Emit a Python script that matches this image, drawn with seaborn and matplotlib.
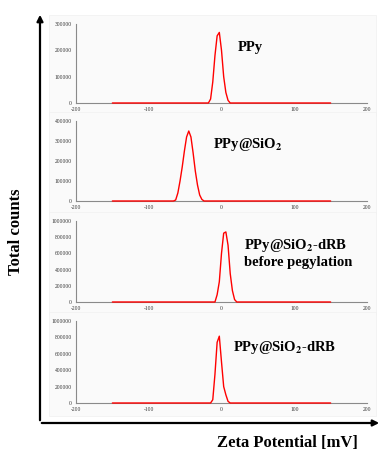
import matplotlib
matplotlib.use('Agg')
import matplotlib.pyplot as plt
import matplotlib.patches as mpatches
import seaborn as sns
import pandas as pd

# Zeta potential distributions (mV, total counts)
ppy_x = [-150, -18, -15, -12, -9, -6, -3, 0, 3, 6, 9, 12, 150]
ppy_y = [0, 0, 15000, 80000, 180000, 255000, 268000, 200000, 100000, 40000, 10000, 0, 0]

sio2_x = [-150, -66, -63, -60, -57, -54, -51, -48, -45, -42, -39, -36, -33, -30, -27, -24, -21, 150]
sio2_y = [0, 0, 5000, 40000, 100000, 170000, 250000, 320000, 350000, 320000, 240000, 150000, 80000, 30000, 8000, 0, 0, 0]

drb_x = [-150, -9, -6, -3, 0, 3, 6, 9, 12, 15, 18, 21, 150]
drb_y = [0, 0, 90000, 250000, 600000, 850000, 865000, 700000, 350000, 140000, 30000, 0, 0]

dopa_x = [-150, -15, -12, -9, -6, -3, 0, 3, 6, 9, 12, 150]
dopa_y = [0, 0, 40000, 350000, 740000, 815000, 500000, 200000, 100000, 20000, 0, 0]

labels = ['PPy', r'PPy@SiO$_\mathbf{2}$',
          'PPy@SiO$_\\mathbf{2}$-dRB\nbefore pegylation', r'PPy@SiO$_\mathbf{2}$-dRB']
ymaxes = [300000, 400000, 1000000, 1000000]
ysteps = [100000, 100000, 200000, 200000]
xticks = [-200, -100, 0, 100, 200]

sns.set_style('white')
plt.rcParams['font.family'] = ['Liberation Serif', 'DejaVu Serif']
plt.rcParams['mathtext.fontset'] = 'stix'

W, H = 382, 454
fig = plt.figure(figsize=(W / 100, H / 100), dpi=100)

def fx(px):
    return px / W

def fy(py):
    return 1 - py / H

# panel boxes in pixel coords: (top, bottom) of the y-axis
panels = [(24, 103), (121, 201), (221, 302), (321, 403)]
label_pos = [(238, 47), (213, 145), (244, 253), (233, 347)]
series = [(ppy_x, ppy_y), (sio2_x, sio2_y), (drb_x, drb_y), (dopa_x, dopa_y)]

for i, ((top, bot), (xs, ys)) in enumerate(zip(panels, series)):
    # faint background box behind each panel
    fig.patches.append(mpatches.Rectangle((fx(49), fy(bot + 13)), fx(327), (bot + 13 - top + 9) / H,
                                          transform=fig.transFigure, facecolor='#fafafa',
                                          edgecolor='#f0f0f0', linewidth=0.5, zorder=-5))
    ax = fig.add_axes([fx(76), fy(bot), fx(291), (bot - top) / H])
    ax.set_facecolor('none')
    df = pd.DataFrame({'zeta': xs, 'counts': ys})
    sns.lineplot(data=df, x='zeta', y='counts', color='red', linewidth=1.0, ax=ax,
                 zorder=5, clip_on=False)
    ax.set_xlim(-200, 200)
    ax.set_ylim(0, ymaxes[i])
    ax.set_xticks(xticks)
    ax.set_xticks([-150, -50, 50, 150], minor=True)
    yt = list(range(0, ymaxes[i] + 1, ysteps[i]))
    ax.set_yticks(yt)
    ax.set_yticks([v + ysteps[i] / 2 for v in yt[:-1]], minor=True)
    ax.set_xticklabels([str(v) for v in xticks])
    ax.set_yticklabels([str(v) for v in yt])
    ax.set_xlabel('')
    ax.set_ylabel('')
    for s in ['top', 'right']:
        ax.spines[s].set_visible(False)
    for s in ['left', 'bottom']:
        ax.spines[s].set_color('#8a8a8a')
        ax.spines[s].set_linewidth(0.8)
    ax.tick_params(which='both', direction='inout', length=3, width=0.6, color='#8a8a8a',
                   labelsize=4, pad=1.5, labelcolor='#333333')
    lx, ly = label_pos[i]
    fig.text(fx(lx), fy(ly), labels[i], fontsize=10.5, fontweight='bold', ha='left',
             va='center', linespacing=1.2, color='black')

# outer arrows
fig.patches.append(mpatches.FancyArrowPatch((fx(40), fy(423)), (fx(40), fy(12)),
                                            transform=fig.transFigure, arrowstyle='-|>',
                                            mutation_scale=9, linewidth=1.6, color='black'))
fig.patches.append(mpatches.FancyArrowPatch((fx(39), fy(423)), (fx(382), fy(423)),
                                            transform=fig.transFigure, arrowstyle='-|>',
                                            mutation_scale=9, linewidth=1.6, color='black'))

fig.text(fx(16), fy(232), 'Total counts', rotation=90, fontsize=12, fontweight='bold',
         ha='center', va='center', color='black')
fig.text(fx(287), fy(443), 'Zeta Potential [mV]', fontsize=12, fontweight='bold',
         ha='center', va='center', color='black')

fig.savefig('out.png', dpi=100, facecolor='white')
